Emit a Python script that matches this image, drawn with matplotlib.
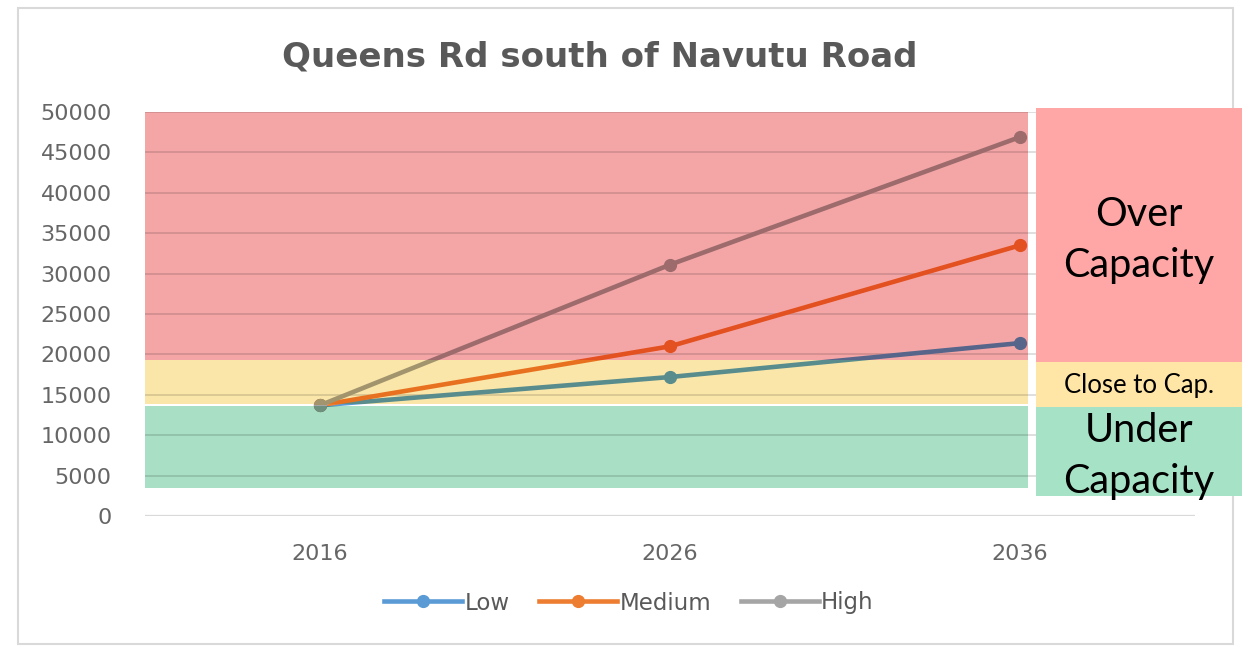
import matplotlib
matplotlib.use("Agg")
import matplotlib.pyplot as plt
from matplotlib.patches import Rectangle
from matplotlib.lines import Line2D
from matplotlib.colors import to_rgb
import numpy as np

# ---------------- data ----------------
title = "Queens Rd south of Navutu Road"
years = ["2016", "2026", "2036"]
low = [13700, 17200, 21400]
medium = [13700, 21000, 33500]
high = [13700, 31100, 46900]
series_names = ["Low", "Medium", "High"]
series_colors = ["#5B9BD5", "#ED7D31", "#A5A5A5"]
yticks = list(range(0, 50001, 5000))

# capacity bands (bottom, top) in vehicles
band_bottoms = [3500, 13900, 19300]
band_tops = [13650, 19300, 50000]
band_colors = ["#A9DFC4", "#FAE6A9", "#F4A6A7"]
box_colors = ["#A6E3C6", "#FFE6A6", "#FFA6A6"]
band_labels = ["Under\nCapacity", "Close to Cap.", "Over\nCapacity"]

# ---------------- figure ----------------
W, H = 1253, 652
fig = plt.figure(figsize=(W / 100, H / 100), dpi=100)
fig.patch.set_facecolor("white")


def fx(px):
    return px / W


def fy(py):
    return 1 - py / H


# outer chart frame
fig.add_artist(Rectangle((fx(18), fy(644)), fx(1233) - fx(18), fy(8) - fy(644),
                         transform=fig.transFigure, fill=False,
                         edgecolor="#D9D9D9", lw=1.5))

ax = fig.add_axes([fx(145), fy(516), fx(1195) - fx(145), fy(112) - fy(516)])
ax.set_xlim(-0.5, 2.5)
ax.set_ylim(0, 50000)
ax.set_facecolor("white")
for s in ax.spines.values():
    s.set_visible(False)

x = np.arange(len(years))
band_xmax = 2.023

# bands
band_patches = []
for lo_, hi_, c in zip(band_bottoms, band_tops, band_colors):
    r = Rectangle((-0.5, lo_), band_xmax + 0.5, hi_ - lo_, facecolor=c,
                  edgecolor="none", zorder=1)
    ax.add_patch(r)
    band_patches.append(r)

# gridlines (multiply-like darkening)
for yv in yticks:
    if yv == 0:
        ax.axhline(yv, color="#D9D9D9", lw=1.6, zorder=2)
    else:
        ax.axhline(yv, color="black", alpha=0.13, lw=1.4, zorder=2)


def mult(c1, c2):
    a = to_rgb(c1)
    b = to_rgb(c2)
    return tuple(p * q for p, q in zip(a, b))


values = [low, medium, high]
for i, (name, vals, col) in enumerate(zip(series_names, values, series_colors)):
    ax.plot(x, vals, color=col, lw=3.3, marker="o", ms=8.5, zorder=0.5,
            solid_capstyle="round")
    for patch, bc in zip(band_patches, band_colors):
        ln, = ax.plot(x, vals, color=mult(col, bc), lw=3.3, marker="o", ms=8.5,
                      zorder=3 + i * 0.1, solid_capstyle="round")
        ln.set_clip_path(patch)

ax.set_yticks(yticks)
ax.set_yticklabels([str(v) for v in yticks])
ax.set_xticks(x)
ax.set_xticklabels(years)
ax.tick_params(axis="y", length=0, pad=24, labelsize=16, labelcolor="#666666")
ax.tick_params(axis="x", length=0, pad=20, labelsize=16, labelcolor="#666666")

# title
fig.text(fx(600), fy(57), title, ha="center", va="center", fontsize=24.5,
         fontweight="bold", color="#595959")

# legend
handles = [Line2D([0], [0], color=c, lw=3.3, marker="o", ms=8.5) for c in series_colors]
fig.legend(handles, series_names, loc="center", bbox_to_anchor=(fx(629), fy(603)),
           ncol=3, frameon=False, fontsize=16.5, handlelength=3.4,
           handletextpad=0.1, columnspacing=1.3, labelcolor="#595959")

# right side label boxes
box_y = [(407, 496), (362, 407), (108, 362)]
box_text_y = [456, 386, 240]
box_fs = [28.5, 18.5, 28.5]
for (y0, y1), c, lab, ty, fs in zip(box_y, box_colors, band_labels, box_text_y, box_fs):
    fig.add_artist(Rectangle((fx(1036), fy(y1)), fx(1242) - fx(1036), fy(y0) - fy(y1),
                             transform=fig.transFigure, facecolor=c,
                             edgecolor="none", zorder=5))
    fig.text(fx(1139), fy(ty), lab, ha="center", va="center", fontsize=fs,
             family=["Lato", "DejaVu Sans"], color="black", linespacing=1.45,
             zorder=6)

fig.savefig("out.png", dpi=100)
